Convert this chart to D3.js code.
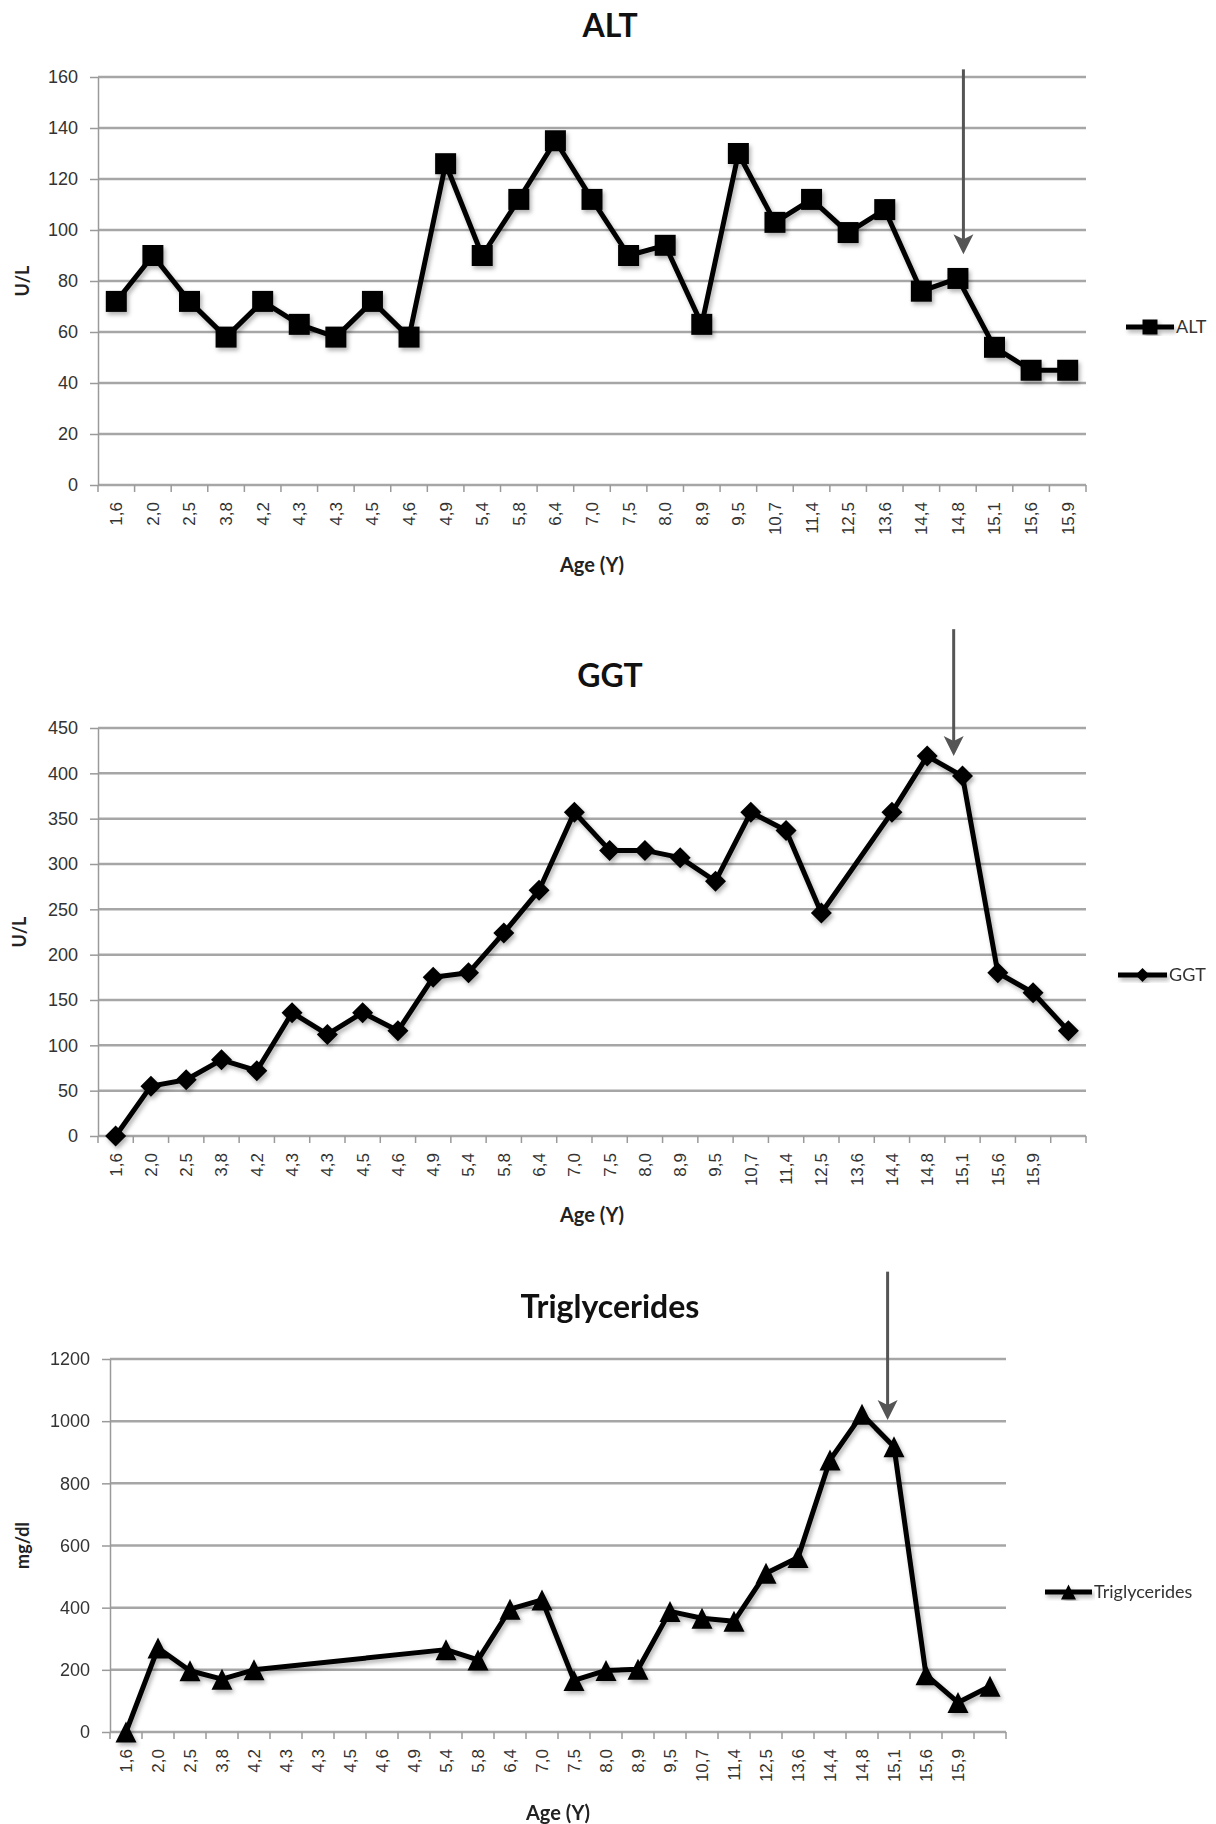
<!DOCTYPE html>
<html>
<head>
<meta charset="utf-8">
<script src="https://cdn.jsdelivr.net/npm/d3@7"></script>
<style>
  body { margin: 0; background: #fff; }
  svg { display: block; font-family: Lato, "Open Sans", sans-serif; }
</style>
</head>
<body>
<svg id="chart"></svg>
<script>
const ageLabels = ['1,6', '2,0', '2,5', '3,8', '4,2', '4,3', '4,3', '4,5', '4,6', '4,9', '5,4', '5,8', '6,4', '7,0',
  '7,5', '8,0', '8,9', '9,5', '10,7', '11,4', '12,5', '13,6', '14,4', '14,8', '15,1', '15,6', '15,9'];
// GGT and triglycerides have one extra unlabelled category at the end
const extLabels = ageLabels.concat(['']);

const altValues = [72, 90, 72, 58, 72, 63, 58, 72, 58, 126, 90, 112, 135, 112, 90, 94, 63, 130, 103, 112, 99, 108, 76, 81, 54, 45, 45];
const ggtValues = [0, 55, 62, 84, 72, 136, 112, 136, 116, 175, 180, 224, 271, 357, 315, 315, 307, 281, 357, 337, 246, null, 357, 419, 397, 180, 158, 116];
const trigValues = [0, 270, 197, 170, 200, null, null, null, null, null, 265, 232, 395, 425, 166, 198, 202, 388, 366, 356, 511, 561, 875, 1022, 918, 184, 95, 147];

const altTicks = [0, 20, 40, 60, 80, 100, 120, 140, 160];
const ggtTicks = [0, 50, 100, 150, 200, 250, 300, 350, 400, 450];
const trigTicks = [0, 200, 400, 600, 800, 1000, 1200];

// arrow: [category position, value at top, value at tip]
const altArrow = [23.15, 163, 90.5];
const ggtArrow = [23.75, 559, 419];
const trigArrow = [23.8, 1481, 1004];

const svg = d3.select('#chart').attr('width', 1216).attr('height', 1824);

const filter = svg.append('defs').append('filter').attr('id', 'shadow')
  .attr('x', '-5%').attr('y', '-5%').attr('width', '110%').attr('height', '110%');
filter.append('feDropShadow').attr('dx', 2).attr('dy', 3).attr('stdDeviation', 2)
  .attr('flood-color', '#000').attr('flood-opacity', 0.3);

const markers = {
  square: s => `M${-s / 2},${-s / 2}h${s}v${s}h${-s}Z`,
  diamond: s => `M0,${-s / 2}L${s / 2},0L0,${s / 2}L${-s / 2},0Z`,
  triangle: s => `M0,${-s / 2}L${s / 2},${s / 2}L${-s / 2},${s / 2}Z`
};

function drawChart(opt) {
  const g = svg.append('g');
  const idx = d3.range(opt.labels.length);

  const x = d3.scaleBand().domain(idx).range([opt.left, opt.right]);
  const y = d3.scaleLinear().domain([0, d3.max(opt.ticks)]).range([opt.bottom, opt.top]);
  const cx = i => x(i) + x.bandwidth() / 2;

  // gridlines (the 0 line doubles as the x axis)
  g.selectAll('.grid')
    .data(opt.ticks)
    .enter()
    .append('line')
    .attr('x1', opt.left)
    .attr('x2', opt.right)
    .attr('y1', d => y(d))
    .attr('y2', d => y(d))
    .attr('stroke', '#a6a6a6')
    .attr('stroke-width', 2.5);

  // y axis
  const yAxis = g.append('g')
    .attr('transform', `translate(${opt.left},0)`)
    .call(d3.axisLeft(y).tickValues(opt.ticks).tickFormat(d3.format('d'))
      .tickSize(8).tickSizeOuter(0).tickPadding(12));
  yAxis.select('.domain').attr('stroke', '#9a9a9a').attr('stroke-width', 1.5);
  yAxis.selectAll('.tick line').attr('stroke', '#9a9a9a').attr('stroke-width', 1.5);
  yAxis.selectAll('text').attr('font-size', 18).attr('fill', '#333');

  // tick marks between categories
  g.selectAll('.xtick')
    .data(d3.range(opt.labels.length + 1))
    .enter()
    .append('line')
    .attr('x1', i => opt.left + i * x.step())
    .attr('x2', i => opt.left + i * x.step())
    .attr('y1', opt.bottom)
    .attr('y2', opt.bottom + 7)
    .attr('stroke', '#9a9a9a')
    .attr('stroke-width', 1.5);

  // x axis labels, rotated
  const xAxis = g.append('g')
    .attr('transform', `translate(0,${opt.bottom})`)
    .call(d3.axisBottom(x).tickSize(0).tickFormat(i => opt.labels[i]));
  xAxis.select('.domain').remove();
  xAxis.selectAll('text')
    .attr('transform', 'rotate(-90)')
    .attr('text-anchor', 'end')
    .attr('x', -17)
    .attr('y', 0)
    .attr('dy', '0.35em')
    .attr('font-size', 17)
    .attr('fill', '#333');

  // titles
  g.append('text')
    .attr('x', 610)
    .attr('y', opt.titleY + 11)
    .attr('text-anchor', 'middle')
    .attr('font-size', 32)
    .attr('font-weight', 'bold')
    .attr('fill', '#111')
    .text(opt.title);

  g.append('text')
    .attr('x', (opt.left + opt.right) / 2)
    .attr('y', opt.xTitleY + 7)
    .attr('text-anchor', 'middle')
    .attr('font-size', 20)
    .attr('font-weight', 'bold')
    .attr('fill', '#222')
    .text('Age (Y)');

  g.append('text')
    .attr('transform', `translate(${opt.yLabelX},${(opt.top + opt.bottom) / 2}) rotate(-90)`)
    .attr('text-anchor', 'middle')
    .attr('dy', '0.35em')
    .attr('font-size', 18)
    .attr('font-weight', 'bold')
    .attr('fill', '#222')
    .text(opt.yLabel);

  // series
  const series = g.append('g').attr('filter', 'url(#shadow)');
  const pts = idx.filter(i => opt.values[i] != null);
  const line = d3.line().x(i => cx(i)).y(i => y(opt.values[i]));

  series.append('path')
    .datum(pts)
    .attr('d', line)
    .attr('fill', 'none')
    .attr('stroke', '#000')
    .attr('stroke-width', 5)
    .attr('stroke-linejoin', 'round');

  series.selectAll('.mark')
    .data(pts)
    .enter()
    .append('path')
    .attr('transform', i => `translate(${cx(i)},${y(opt.values[i])})`)
    .attr('d', markers[opt.marker](opt.markerSize))
    .attr('fill', '#000');

  // legend
  const lg = g.append('g').attr('filter', 'url(#shadow)');
  lg.append('line')
    .attr('x1', opt.legend[0])
    .attr('x2', opt.legend[1])
    .attr('y1', opt.legend[2])
    .attr('y2', opt.legend[2])
    .attr('stroke', '#000')
    .attr('stroke-width', 5);
  lg.append('path')
    .attr('transform', `translate(${(opt.legend[0] + opt.legend[1]) / 2},${opt.legend[2]})`)
    .attr('d', markers[opt.marker](opt.legendSize))
    .attr('fill', '#000');
  g.append('text')
    .attr('x', opt.legend[1] + 2)
    .attr('y', opt.legend[2])
    .attr('dy', '0.35em')
    .attr('font-size', 18)
    .attr('fill', '#333')
    .text(opt.title);

  // arrow pointing at the event
  const ax = cx(0) + x.step() * opt.arrow[0];
  const yTop = y(opt.arrow[1]);
  const yTip = y(opt.arrow[2]);
  g.append('line')
    .attr('x1', ax)
    .attr('x2', ax)
    .attr('y1', yTop)
    .attr('y2', yTip - 14)
    .attr('stroke', '#555')
    .attr('stroke-width', 3);
  g.append('path')
    .attr('d', `M${ax},${yTip}L${ax - 10},${yTip - 20}L${ax},${yTip - 15}L${ax + 10},${yTip - 20}Z`)
    .attr('fill', '#555');
}

drawChart({
  title: 'ALT', yLabel: 'U/L', labels: ageLabels, values: altValues, ticks: altTicks,
  left: 98, right: 1086, top: 77, bottom: 485,
  titleY: 26, xTitleY: 565, yLabelX: 23,
  marker: 'square', markerSize: 21, legendSize: 15,
  legend: [1126, 1174, 327], arrow: altArrow
});

drawChart({
  title: 'GGT', yLabel: 'U/L', labels: extLabels, values: ggtValues, ticks: ggtTicks,
  left: 98, right: 1086, top: 728, bottom: 1136,
  titleY: 676, xTitleY: 1215, yLabelX: 20,
  marker: 'diamond', markerSize: 21, legendSize: 14,
  legend: [1118, 1167, 975], arrow: ggtArrow
});

drawChart({
  title: 'Triglycerides', yLabel: 'mg/dl', labels: extLabels, values: trigValues, ticks: trigTicks,
  left: 110, right: 1006, top: 1359, bottom: 1732,
  titleY: 1307, xTitleY: 1813, yLabelX: 23,
  marker: 'triangle', markerSize: 21, legendSize: 15,
  legend: [1045, 1092, 1592], arrow: trigArrow
});
</script>
</body>
</html>
